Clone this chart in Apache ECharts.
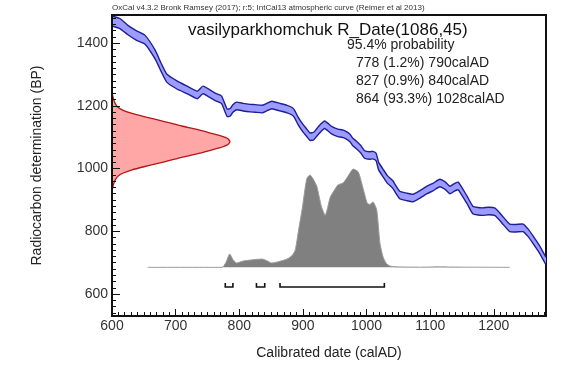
<!DOCTYPE html>
<html><head><meta charset="utf-8">
<script src="https://cdn.jsdelivr.net/npm/echarts@6/dist/echarts.min.js"></script>
<style>html,body{margin:0;padding:0;background:#fff}#c{width:572px;height:380px}</style>
</head><body><div id="c"></div>
<script>
// ---- tick labels ----
const yearTicks = [600, 700, 800, 900, 1000, 1100, 1200];
const bpTicks = [600, 800, 1000, 1200, 1400];

// ---- calibration curve (IntCal13), calAD vs BP, with 1-sigma half width ----
const calYear = [600, 613, 625, 638, 652, 668, 677, 686, 702, 718, 734, 743, 762, 772, 781, 786, 790, 796, 806, 817, 825, 836, 843, 851, 864, 875, 883, 887, 892, 898, 905, 911, 917, 922, 928, 934, 939, 945, 955, 961, 967, 974, 978, 985, 991, 997, 1005, 1010, 1015, 1019, 1026, 1033, 1041, 1052, 1063, 1073, 1084, 1095, 1105, 1115, 1124, 1131, 1138, 1144, 1158, 1167, 1175, 1183, 1192, 1202, 1213, 1225, 1235, 1246, 1254, 1262, 1272, 1282];
const calBP = [1471, 1462, 1442, 1425, 1411, 1363, 1324, 1289, 1267, 1251, 1235, 1251, 1229, 1220, 1178, 1180, 1192, 1200, 1196, 1193, 1192, 1190, 1196, 1203, 1196, 1190, 1183, 1174, 1154, 1135, 1117, 1102, 1104, 1116, 1130, 1140, 1133, 1123, 1114, 1112, 1108, 1098, 1086, 1074, 1062, 1045, 1042, 1043, 1037, 1008, 986, 965, 950, 916, 910, 906, 918, 932, 942, 954, 945, 932, 940, 945, 900, 868, 864, 863, 865, 862, 838, 811, 810, 811, 795, 772, 742, 705];
const calSigma = [16, 16, 15, 15, 14, 14, 13, 13, 13, 12, 12, 12, 12, 12, 12, 12, 12, 12, 12, 12, 12, 12, 12, 12, 12, 12, 12, 12, 12, 12, 12, 12, 12, 12, 12, 12, 12, 12, 12, 12, 12, 12, 12, 12, 12, 12, 12, 12, 12, 12, 12, 12, 12, 12, 12, 12, 12, 12, 12, 12, 12, 12, 12, 12, 12, 12, 12, 12, 12, 12, 12, 12, 12, 12, 12, 12, 12, 12];

// ---- posterior (calibrated) probability density, relative % ----
const densYear = [656, 773, 779, 785, 790, 796, 806, 817, 826, 836, 844, 851, 863, 875, 883, 888, 893, 899, 906, 911, 916, 922, 929, 935, 943, 949, 955, 963, 969, 975, 979, 987, 994, 1001, 1005, 1010, 1016, 1021, 1026, 1031, 1037, 1045, 1060, 1085, 1100, 1115, 1130, 1150, 1225];
const densVal = [0, 0, 5, 13.5, 8, 4.4, 6.4, 7.4, 8, 8.4, 6.5, 4.4, 6, 8.4, 12, 17.6, 37, 60, 90, 94, 90, 82, 62, 53, 71.5, 78, 83.7, 85.8, 90.8, 97, 100, 97, 81.7, 65.4, 64, 66.4, 58.3, 24.7, 10.5, 4, 1.3, 0.6, 0.3, 0.2, 0.3, 0.5, 0.3, 0.2, 0];

// ---- radiocarbon measurement R_Date(1086,45), relative % ----
const rDateBP = [1246, 1236, 1226, 1216, 1206, 1196, 1186, 1176, 1166, 1156, 1146, 1136, 1126, 1116, 1106, 1096, 1086, 1076, 1066, 1056, 1046, 1036, 1026, 1016, 1006, 996, 986, 976, 966, 956, 946, 936, 926];
const rDateProb = [0, 0.4, 1, 1.8, 3, 5, 9.5, 17, 27, 38, 49, 59, 71, 81, 91, 98, 100, 98, 91, 81, 71, 59, 49, 38, 27, 17, 9.5, 5, 3, 1.8, 1, 0.4, 0];

// ---- 95.4% ranges ----
const rangeFrom = [778, 827, 864];
const rangeTo = [790, 840, 1028];
const rangePct = ['1.2', '0.9', '93.3'];

const headerText = 'OxCal v4.3.2 Bronk Ramsey (2017); r:5; IntCal13 atmospheric curve (Reimer et al 2013)';
const titleText = 'vasilyparkhomchuk R_Date(1086,45)';
const probTitle = '95.4% probability';
const xName = 'Calibrated date (calAD)';
const yName = 'Radiocarbon determination (BP)';

const FONT = '"Liberation Sans", Arial, Helvetica, sans-serif';
const minorYears = []; for (let v = 610; v < 1282; v += 10) if (v % 100) minorYears.push(v);
const minorBP = []; for (let v = 540; v < 1490; v += 20) if (v % 200) minorBP.push(v);
const plain = v => String(v);

const chart = echarts.init(document.getElementById('c'), null, {renderer: 'canvas'});

const textEls = [
  {type: 'text', x: 112, y: 8, style: {text: headerText, font: '8px ' + FONT, fill: '#333', align: 'left', verticalAlign: 'middle'}},
  {type: 'text', x: 188, y: 30, style: {text: titleText, font: '17px ' + FONT, fill: '#111', align: 'left', verticalAlign: 'middle'}},
  {type: 'text', x: 347, y: 45, style: {text: probTitle, font: '14px ' + FONT, fill: '#222', align: 'left', verticalAlign: 'middle'}}
];
rangeFrom.forEach((f, i) => {
  textEls.push({type: 'text', x: 356, y: 63 + 18 * i, style: {text: f + ' (' + rangePct[i] + '%) ' + rangeTo[i] + 'calAD', font: '14px ' + FONT, fill: '#222', align: 'left', verticalAlign: 'middle'}});
});

chart.setOption({
  animation: false,
  backgroundColor: '#fff',
  grid: {left: 112, right: 26, top: 15, bottom: 64, show: true, borderColor: '#111', borderWidth: 2, backgroundColor: 'transparent'},
  xAxis: [
    {type: 'value', min: 600, max: 1282, position: 'bottom', z: 10,
      axisLine: {show: true, onZero: false, lineStyle: {color: '#111', width: 2}}, splitLine: {show: false},
      axisTick: {inside: true, length: 7, customValues: yearTicks, lineStyle: {color: '#111', width: 1}},
      axisLabel: {customValues: yearTicks, formatter: plain, margin: 3, fontSize: 14, color: '#333', fontFamily: FONT},
      name: xName, nameLocation: 'middle', nameGap: 30, nameTextStyle: {fontSize: 14, color: '#222', fontFamily: FONT}},
    {type: 'value', min: 600, max: 1282, position: 'bottom', z: 10,
      axisLine: {show: false, onZero: false}, splitLine: {show: false}, axisLabel: {show: false},
      axisTick: {inside: true, length: 4, customValues: minorYears, lineStyle: {color: '#111', width: 1}}},
    {type: 'value', min: 0, max: 367.8, show: false}
  ],
  yAxis: [
    {type: 'value', min: 530, max: 1490, position: 'left', z: 10,
      axisLine: {show: true, onZero: false, lineStyle: {color: '#111', width: 2}}, splitLine: {show: false},
      axisTick: {inside: true, length: 8, customValues: bpTicks, lineStyle: {color: '#111', width: 1}},
      axisLabel: {customValues: bpTicks, formatter: plain, margin: 4, fontSize: 14, color: '#333', fontFamily: FONT},
      name: yName, nameLocation: 'middle', nameGap: 68, nameTextStyle: {fontSize: 14, color: '#222', fontFamily: FONT}},
    {type: 'value', min: 530, max: 1490, position: 'left', z: 10,
      axisLine: {show: false, onZero: false}, splitLine: {show: false}, axisLabel: {show: false},
      axisTick: {inside: true, length: 4, customValues: minorBP, lineStyle: {color: '#111', width: 1}}},
    {type: 'value', min: -49.5, max: 256.7, show: false}
  ],
  graphic: textEls,
  series: [
    {type: 'line', xAxisIndex: 0, yAxisIndex: 2, silent: true, showSymbol: false, smooth: 0.2,
      data: densYear.map((y, i) => [y, densVal[i]]),
      lineStyle: {color: '#9a9a9a', width: 1}, areaStyle: {color: '#808080', opacity: 1}},
    {type: 'custom', xAxisIndex: 0, yAxisIndex: 0, silent: true, clip: true,
      data: [[calYear[0], calBP[0]]],
      renderItem: function (params, api) {
        const up = calYear.map((x, i) => api.coord([x, calBP[i] + calSigma[i]]));
        const lo = calYear.map((x, i) => api.coord([x, calBP[i] - calSigma[i]]));
        return {type: 'group', children: [
          {type: 'polygon', shape: {points: up.concat(lo.slice().reverse())}, style: {fill: '#9c9cff', stroke: null}},
          {type: 'polyline', shape: {points: up, smooth: 0.15}, style: {stroke: '#1e1e96', lineWidth: 1.4, fill: null}},
          {type: 'polyline', shape: {points: lo, smooth: 0.15}, style: {stroke: '#1e1e96', lineWidth: 1.4, fill: null}}
        ]};
      }},
    {type: 'custom', xAxisIndex: 2, yAxisIndex: 0, silent: true,
      data: [[0, rDateBP[0]]],
      renderItem: function (params, api) {
        const pts = rDateBP.map((b, i) => api.coord([rDateProb[i], b]));
        return {type: 'group', children: [
          {type: 'polygon', shape: {points: pts, smooth: 0.2}, style: {fill: '#ffa6a6', stroke: null}},
          {type: 'polyline', shape: {points: pts, smooth: 0.2}, style: {stroke: '#b01818', lineWidth: 1.3, fill: null}}
        ]};
      }},
    {type: 'custom', xAxisIndex: 0, yAxisIndex: 2, silent: true,
      encode: {x: [0, 1]},
      data: rangeFrom.map((f, i) => [f, rangeTo[i]]),
      renderItem: function (params, api) {
        const a = api.coord([api.value(0), -20]);
        const b = api.coord([api.value(1), -20]);
        const t = api.coord([api.value(0), -16]);
        return {type: 'polyline', shape: {points: [[a[0], t[1]], a, b, [b[0], t[1]]]},
          style: {stroke: '#111', lineWidth: 1.6, fill: null}};
      }}
  ]
});
</script>
</body></html>
